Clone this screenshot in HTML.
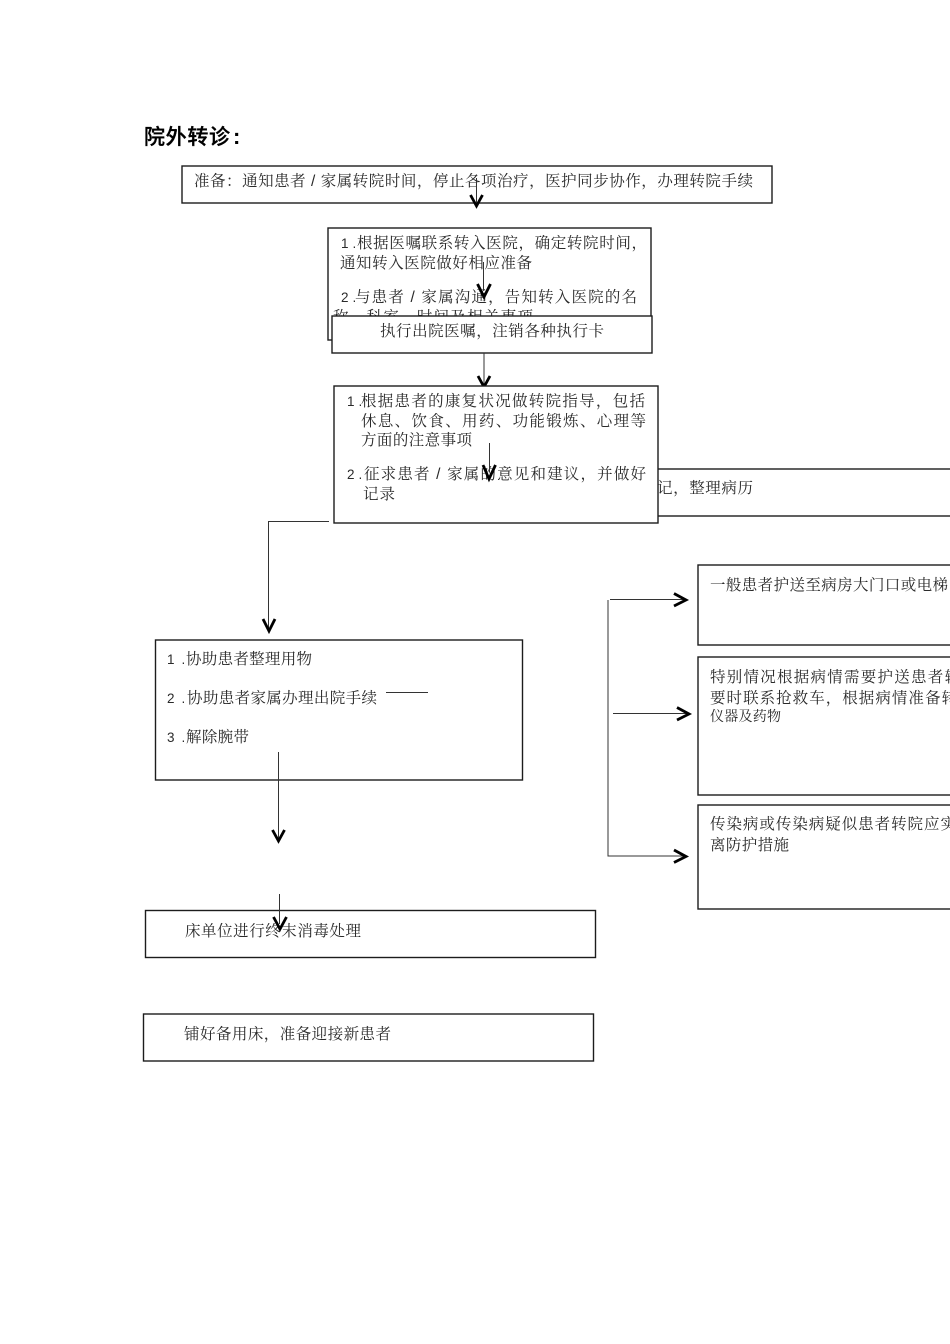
<!DOCTYPE html>
<html lang="zh">
<head>
<meta charset="utf-8">
<title>院外转诊</title>
<style>
html,body{margin:0;padding:0;background:#fff;width:950px;height:1344px;overflow:hidden}
svg{display:block}
text{font-family:"Liberation Sans","Noto Serif CJK SC",serif;font-size:15.5px;fill:#2a2a2a}
.t{font-family:"Noto Sans CJK SC",sans-serif;font-size:21px;font-weight:500;fill:#000;stroke:#000;stroke-width:.35}
.c{font-family:"Liberation Sans","Noto Sans CJK SC",sans-serif;font-size:22px;font-weight:700;fill:#000}
.n{font-size:13.5px;letter-spacing:4px}
.m{font-size:13.5px;letter-spacing:7px}
.b{fill:#fff;stroke:#1c1c1c;stroke-width:1.4}
.l{fill:none;stroke:#333;stroke-width:1}
.a{fill:none;stroke:#000;stroke-width:2.8}
</style>
</head>
<body>
<svg width="950" height="1344" viewBox="0 0 950 1344" xmlns="http://www.w3.org/2000/svg">
<text class="t" x="144" y="144" textLength="86">院外转诊</text>
<text class="c" x="233" y="144">:</text>

<!-- top box -->
<rect class="b" x="182" y="166" width="590" height="37"/>
<text x="194" y="186" textLength="559">准备：通知患者 / 家属转院时间，停止各项治疗，医护同步协作，办理转院手续</text>
<path class="l" d="M476.500 178V203"/>
<path class="a" d="M470.500 195L476.500 206L482.500 195"/>

<!-- box 2 -->
<rect class="b" x="328" y="228" width="323" height="112"/>
<text class="n" x="341" y="248">1.</text>
<text x="357" y="248" textLength="290">根据医嘱联系转入医院，确定转院时间，</text>
<text x="340" y="268" textLength="192">通知转入医院做好相应准备</text>
<text class="n" x="341" y="302">2.</text>
<text x="355" y="302" textLength="282">与患者 / 家属沟通，告知转入医院的名</text>
<text x="333" y="322" textLength="200">称、科室、时间及相关事项</text>
<path class="l" d="M483.500 262V290"/>
<path class="a" d="M477.500 284L484 297L490.500 284"/>

<!-- box 3 -->
<rect class="b" x="332" y="316" width="320" height="37"/>
<text x="380" y="336" textLength="224">执行出院医嘱，注销各种执行卡</text>
<path class="l" d="M484 353V384"/>
<path class="a" d="M478 376L484 387L490 376"/>

<!-- hidden box -->
<rect class="b" x="600" y="469" width="380" height="47"/>
<text x="657" y="493" textLength="96">记，整理病历</text>

<!-- box 4 -->
<rect class="b" x="334" y="386" width="324" height="137"/>
<text class="n" x="347" y="406">1.</text>
<text x="361" y="406" textLength="284">根据患者的康复状况做转院指导，包括</text>
<text x="361" y="426" textLength="285">休息、饮食、用药、功能锻炼、心理等</text>
<text x="361" y="445" textLength="111">方面的注意事项</text>
<text class="n" x="347" y="479">2.</text>
<text x="364" y="479" textLength="282">征求患者 / 家属的意见和建议，并做好</text>
<text x="363" y="499" textLength="32">记录</text>
<path class="l" d="M489.500 443V472"/>
<path class="a" d="M483 465L489 479L495.500 465"/>

<!-- left branch -->
<path class="l" d="M329 521.500H268.500V628"/>
<path class="a" d="M263 619L269 631L275 619"/>

<!-- box 5 -->
<rect class="b" x="155.500" y="640" width="367" height="140"/>
<text class="m" x="167" y="664">1.</text>
<text x="186" y="664" textLength="126">协助患者整理用物</text>
<text class="m" x="167" y="703">2.</text>
<text x="187" y="703" textLength="190">协助患者家属办理出院手续</text>
<text class="m" x="167" y="742">3.</text>
<text x="186" y="742" textLength="63">解除腕带</text>
<path class="l" d="M386 692.500H428"/>
<path class="l" d="M278.500 752V839"/>
<path class="a" d="M272.500 830L278.500 841L284.500 830"/>

<!-- box 6 -->
<rect class="b" x="145.500" y="910.500" width="450" height="47"/>
<text x="185" y="936" textLength="176">床单位进行终末消毒处理</text>
<path class="l" d="M279.500 894V924"/>
<path class="a" d="M273.500 917L280 929L286.500 917"/>

<!-- box 7 -->
<rect class="b" x="143.500" y="1014" width="450" height="47"/>
<text x="184" y="1039" textLength="207">铺好备用床，准备迎接新患者</text>

<!-- right branch -->
<path class="l" d="M610 599.500H684"/>
<path class="l" d="M608 600V856H684"/>
<path class="l" d="M613 713.500H687"/>
<path class="a" d="M674 593.500L686 600L674 606"/>
<path class="a" d="M677 707.500L689 714L677 720"/>
<path class="a" d="M674 850L686 856.500L674 862.500"/>

<!-- right boxes -->
<rect class="b" x="698" y="565" width="300" height="80"/>
<text x="710" y="590" textLength="238">一般患者护送至病房大门口或电梯</text>
<rect class="b" x="698" y="657" width="300" height="138"/>
<text x="710" y="682" textLength="250">特别情况根据病情需要护送患者转</text>
<text x="710" y="703" textLength="247">要时联系抢救车，根据病情准备转</text>
<text x="710" y="721" style="font-size:14px" textLength="71">仪器及药物</text>
<rect class="b" x="698" y="805" width="300" height="104"/>
<text x="710" y="829" textLength="246">传染病或传染病疑似患者转院应实</text>
<text x="710" y="850" textLength="79">离防护措施</text>
</svg>
</body>
</html>
